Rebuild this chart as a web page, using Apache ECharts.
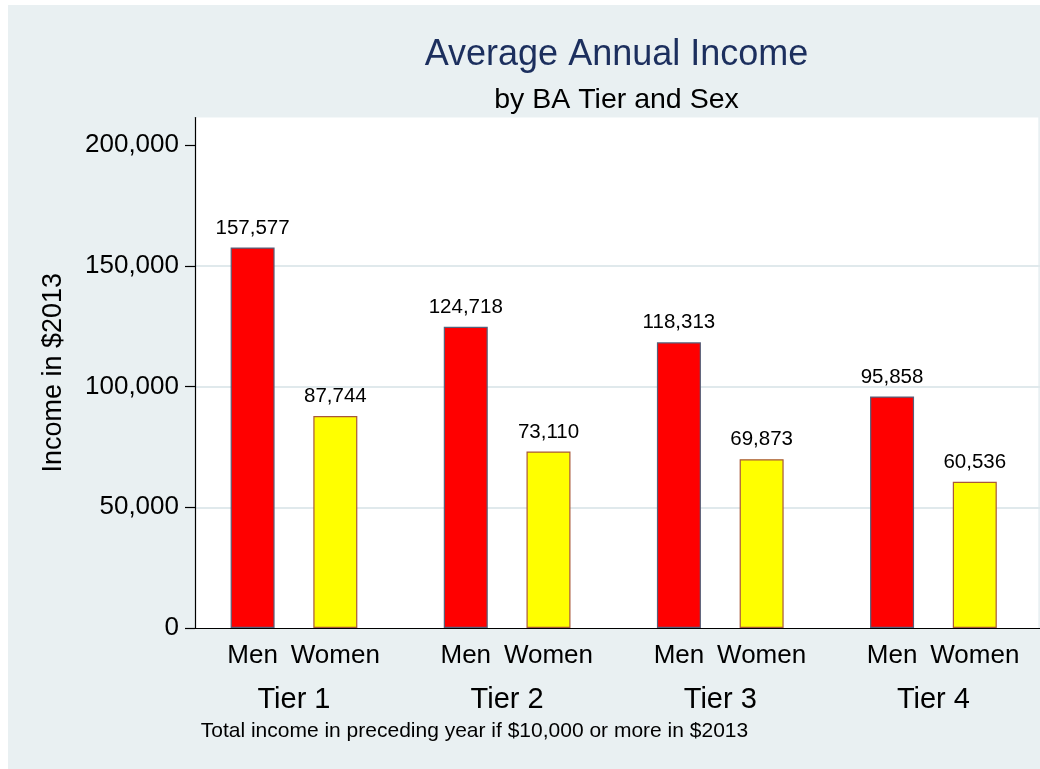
<!DOCTYPE html>
<html><head><meta charset="utf-8">
<script src="https://cdn.jsdelivr.net/npm/echarts@6/dist/echarts.min.js"></script>
<style>
html,body{margin:0;padding:0;background:#fff;width:1040px;height:769px;overflow:hidden}
#c{position:absolute;left:8px;top:5px;width:1032px;height:764px}
</style></head>
<body><div id="c"></div>
<script>
const tiers = ['Tier 1', 'Tier 2', 'Tier 3', 'Tier 4'];
const sexLabels = ['Men', 'Women'];
const menIncome = [157577, 124718, 118313, 95858];
const womenIncome = [87744, 73110, 69873, 60536];
const yTicks = [0, 50000, 100000, 150000, 200000];
const gridTicks = [50000, 100000, 150000];
const yMax = 211400;
const titleText = 'Average Annual Income';
const subtitleText = 'by BA Tier and Sex';
const noteText = 'Total income in preceding year if $10,000 or more in $2013';
const yName = 'Income in $2013';

const FONT = 'Arial, "Liberation Sans", Helvetica, sans-serif';
const fmt = v => Number(v).toLocaleString('en-US');
const baseZeros = tiers.map(() => 0);

const chart = echarts.init(document.getElementById('c'), null, {renderer: 'canvas'});
const barCommon = {type: 'bar', barWidth: 44, barGap: '88%'};

chart.setOption({
  backgroundColor: '#E9F0F2',
  animation: false,
  textStyle: {fontFamily: FONT},
  graphic: [
    {type: 'rect', z: -1, silent: true, shape: {x: 187, y: 112.5, width: 843.3, height: 510.5}, style: {fill: '#ffffff'}},
    {type: 'text', x: 608.5, y: 50, silent: true, style: {text: titleText, font: '36px ' + FONT, fill: '#1c2f5e', align: 'center', verticalAlign: 'middle', textAlign: 'center', textVerticalAlign: 'middle'}},
    {type: 'text', x: 608.5, y: 95, silent: true, style: {text: subtitleText, font: '28.5px ' + FONT, fill: '#000', align: 'center', verticalAlign: 'middle', textAlign: 'center', textVerticalAlign: 'middle'}},
    {type: 'text', x: 192.7, y: 726, silent: true, style: {text: noteText, font: '21px ' + FONT, fill: '#000', align: 'left', verticalAlign: 'middle', textAlign: 'left', textVerticalAlign: 'middle'}}
  ],
  grid: {left: 179.4, top: 112.5, width: 858.4, height: 510.5, containLabel: false},
  xAxis: {
    type: 'category', data: tiers,
    axisLine: {show: true, lineStyle: {color: '#000', width: 1.2}},
    axisTick: {show: false},
    axisLabel: {fontSize: 29, color: '#000', margin: 57, fontFamily: FONT},
    splitLine: {show: false}
  },
  yAxis: [
    {
      type: 'value', min: 0, max: yMax, interval: 50000, offset: -7.6,
      name: yName, nameLocation: 'middle', nameGap: 128, nameRotate: 90,
      nameTextStyle: {fontSize: 27, color: '#000', fontFamily: FONT},
      axisLine: {show: true, lineStyle: {color: '#000', width: 1.2}},
      axisTick: {show: true, length: 10, lineStyle: {color: '#000', width: 1.2}, customValues: yTicks},
      axisLabel: {fontSize: 26, color: '#000', margin: 16, customValues: yTicks, formatter: v => fmt(v), fontFamily: FONT, padding: [7, 0, 0, 0]},
      splitLine: {show: false}
    },
    {
      type: 'value', min: 0, max: yMax, interval: 50000,
      axisLine: {show: false},
      axisTick: {show: false, customValues: gridTicks},
      axisLabel: {show: false, customValues: gridTicks},
      splitLine: {show: true, lineStyle: {color: '#E0E9EC', width: 2}}
    }
  ],
  series: [
    Object.assign({}, barCommon, {
      name: 'menBase', stack: 'men', data: baseZeros, silent: true,
      itemStyle: {color: 'transparent', borderWidth: 0},
      label: {show: true, position: 'bottom', distance: 15, formatter: sexLabels[0], fontSize: 26, color: '#000', fontFamily: FONT}
    }),
    Object.assign({}, barCommon, {
      name: sexLabels[0], stack: 'men', data: menIncome,
      itemStyle: {color: '#ff0000', borderColor: '#56607a', borderWidth: 1.2},
      label: {show: true, position: 'top', distance: 9, formatter: p => fmt(p.value), fontSize: 20.5, color: '#000', fontFamily: FONT}
    }),
    Object.assign({}, barCommon, {
      name: 'womenBase', stack: 'women', data: baseZeros, silent: true,
      itemStyle: {color: 'transparent', borderWidth: 0},
      label: {show: true, position: 'bottom', distance: 15, formatter: sexLabels[1], fontSize: 26, color: '#000', fontFamily: FONT}
    }),
    Object.assign({}, barCommon, {
      name: sexLabels[1], stack: 'women', data: womenIncome,
      itemStyle: {color: '#ffff00', borderColor: '#a8583a', borderWidth: 1.2},
      label: {show: true, position: 'top', distance: 9, formatter: p => fmt(p.value), fontSize: 20.5, color: '#000', fontFamily: FONT}
    })
  ]
});
</script></body></html>
